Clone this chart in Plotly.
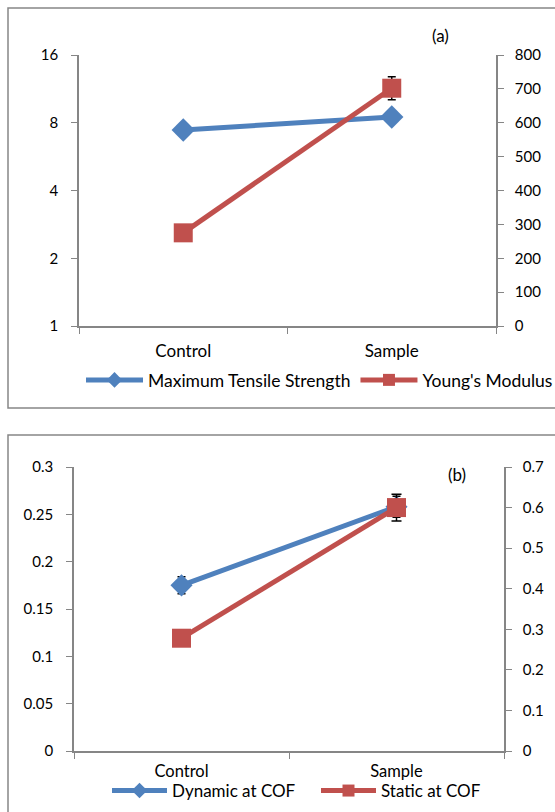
import plotly.graph_objects as go

W, H = 555, 812

# ---------------- data ----------------
categories = ["Control", "Sample"]

# Panel (a)
tensile_strength = [7.43, 8.49]          # left log2 axis
tensile_err = [0.15, 0.2]
youngs_modulus = [275, 702]              # right axis
youngs_err = [5, 34]

# Panel (b)
dynamic_cof = [0.175, 0.258]             # left axis
dynamic_err = [0.009, 0.011]
static_cof = [0.278, 0.600]              # right axis
static_err = [0.004, 0.033]

left_a_ticks = [1, 2, 4, 8, 16]
right_a_ticks = [0, 100, 200, 300, 400, 500, 600, 700, 800]
left_b_ticks = [0, 0.05, 0.1, 0.15, 0.2, 0.25, 0.3]
left_b_text = ["0", "0.05", "0.1", "0.15", "0.2", "0.25", "0.3"]
right_b_ticks = [0, 0.1, 0.2, 0.3, 0.4, 0.5, 0.6, 0.7]
right_b_text = ["0", "0.1", "0.2", "0.3", "0.4", "0.5", "0.6", "0.7"]

BLUE = "#4F81BD"
RED = "#C0504D"
AXIS = "#868686"
FONT = "Lato"
FS = 15
FS_CAT = 17
FS_LEG = 17.5


def px_x(x):
    return x / W


def px_y(y):
    return 1 - y / H


fig = go.Figure()

# ---- panel (a)
fig.add_trace(go.Scatter(
    x=categories, y=tensile_strength, name="Maximum Tensile Strength",
    mode="lines+markers", line=dict(color=BLUE, width=5),
    marker=dict(symbol="diamond", size=18, color=BLUE),
    error_y=dict(type="data", array=tensile_err, color="black", thickness=1.5, width=4),
    xaxis="x", yaxis="y", legend="legend"))
fig.add_trace(go.Scatter(
    x=categories, y=youngs_modulus, name="Young's Modulus",
    mode="lines+markers", line=dict(color=RED, width=5),
    marker=dict(symbol="square", size=19, color=RED),
    error_y=dict(type="data", array=youngs_err, color="black", thickness=1.5, width=4),
    xaxis="x", yaxis="y2", legend="legend"))

# ---- panel (b)
fig.add_trace(go.Scatter(
    x=categories, y=dynamic_cof, name="Dynamic at COF",
    mode="lines+markers", line=dict(color=BLUE, width=5),
    marker=dict(symbol="diamond", size=17, color=BLUE),
    error_y=dict(type="data", array=dynamic_err, color="black", thickness=1.5, width=4),
    xaxis="x2", yaxis="y3", legend="legend2"))
fig.add_trace(go.Scatter(
    x=categories, y=static_cof, name="Static at COF",
    mode="lines+markers", line=dict(color=RED, width=5),
    marker=dict(symbol="square", size=19, color=RED),
    error_y=dict(type="data", array=static_err, color="black", thickness=1.5, width=5),
    xaxis="x2", yaxis="y4", legend="legend2"))

axis_common = dict(showline=True, linecolor=AXIS, linewidth=1.5, ticks="outside",
                   tickcolor=AXIS, ticklen=6, showgrid=False, zeroline=False,
                   automargin=False,
                   tickfont=dict(family=FONT, size=FS, color="black"), fixedrange=True)
cat_font = dict(family=FONT, size=FS_CAT, color="black")
cat_font_b = dict(family=FONT, size=16.5, color="black")

xa_dom = [px_x(79), px_x(496)]
ya_dom = [px_y(326), px_y(55)]
xb_dom = [px_x(74), px_x(504)]
yb_dom = [px_y(751), px_y(467)]

fig.update_layout(
    template="none",
    width=W, height=H, margin=dict(l=0, r=0, t=0, b=0, autoexpand=False),
    paper_bgcolor="white", plot_bgcolor="white",
    font=dict(family=FONT, size=FS, color="black"),
    xaxis=dict(domain=xa_dom, anchor="y", type="category", range=[-0.5, 1.5],
               tickson="boundaries", ticklabelstandoff=9,
               **{**axis_common, "tickfont": cat_font}),
    yaxis=dict(domain=ya_dom, anchor="x", type="log", range=[0, 1.2041199826559248],
               tickvals=left_a_ticks, ticktext=[str(v) for v in left_a_ticks],
               ticklabelstandoff=10, **axis_common),
    yaxis2=dict(overlaying="y", side="right", anchor="x", range=[0, 800],
                tickvals=right_a_ticks, ticklabelstandoff=8, **axis_common),
    xaxis2=dict(domain=xb_dom, anchor="y3", type="category", range=[-0.5, 1.5],
                tickson="boundaries", ticklabelstandoff=4,
                **{**axis_common, "tickfont": cat_font_b}),
    yaxis3=dict(domain=yb_dom, anchor="x2", range=[0, 0.3],
                tickvals=left_b_ticks, ticktext=left_b_text,
                ticklabelstandoff=10, **axis_common),
    yaxis4=dict(overlaying="y3", side="right", anchor="x2", range=[0, 0.7],
                tickvals=right_b_ticks, ticktext=right_b_text,
                ticklabelstandoff=8, **axis_common),
    legend=dict(orientation="h", x=px_x(81), y=px_y(380), xanchor="left", yanchor="middle",
                font=dict(family=FONT, size=FS_LEG), itemwidth=57, itemsizing="constant",
                tracegroupgap=0, bgcolor="rgba(0,0,0,0)"),
    legend2=dict(orientation="h", x=px_x(107), y=px_y(791), xanchor="left", yanchor="middle",
                 font=dict(family=FONT, size=17), itemwidth=55, itemsizing="constant",
                 entrywidth=139, tracegroupgap=0, bgcolor="rgba(0,0,0,0)"),
    annotations=[
        dict(text="(a)", x=px_x(440), y=px_y(35), xref="paper", yref="paper",
             xanchor="center", yanchor="middle",
             showarrow=False, font=dict(family=FONT, size=FS_CAT)),
        dict(text="(b)", x=px_x(457), y=px_y(474), xref="paper", yref="paper",
             xanchor="center", yanchor="middle",
             showarrow=False, font=dict(family=FONT, size=FS_CAT)),
    ],
    shapes=[
        dict(type="rect", xref="paper", yref="paper", x0=px_x(8), x1=px_x(600),
             y0=px_y(408), y1=px_y(8), line=dict(color=AXIS, width=1.5), layer="below"),
        dict(type="rect", xref="paper", yref="paper", x0=px_x(8), x1=px_x(600),
             y0=px_y(850), y1=px_y(435), line=dict(color=AXIS, width=1.5), layer="below"),
    ],
    showlegend=True,
)

fig.write_html("out.html")
